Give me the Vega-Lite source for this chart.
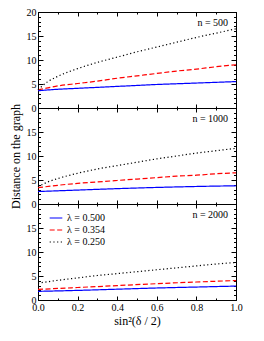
{
  "$schema": "https://vega.github.io/schema/vega-lite/v6.json",
  "padding": {"left": 8, "top": 6, "right": 5, "bottom": 5},
  "background": "white",
  "bounds": "flush",
  "spacing": 0,
  "resolve": {"legend": {"color": "independent", "strokeDash": "independent"}},
  "config": {
    "view": {"stroke": "black", "strokeWidth": 1},
    "font": "Liberation Serif",
    "axis": {"domainColor": "black", "tickColor": "black", "labelColor": "black", "titleColor": "black", "grid": false, "labelFont": "Liberation Serif", "titleFont": "Liberation Serif", "labelFontSize": 10, "titleFontSize": 12, "titleFontWeight": "normal"},
    "legend": {"labelFont": "Liberation Serif"}
  },
  "datasets": {
    "curves": [
      {"n": 500, "lam": "λ = 0.500", "s": 0.0, "d": 3.6},
      {"n": 500, "lam": "λ = 0.500", "s": 0.1, "d": 3.9},
      {"n": 500, "lam": "λ = 0.500", "s": 0.2, "d": 4.1},
      {"n": 500, "lam": "λ = 0.500", "s": 0.3, "d": 4.3},
      {"n": 500, "lam": "λ = 0.500", "s": 0.4, "d": 4.5},
      {"n": 500, "lam": "λ = 0.500", "s": 0.5, "d": 4.7},
      {"n": 500, "lam": "λ = 0.500", "s": 0.6, "d": 4.9},
      {"n": 500, "lam": "λ = 0.500", "s": 0.7, "d": 5.05},
      {"n": 500, "lam": "λ = 0.500", "s": 0.8, "d": 5.2},
      {"n": 500, "lam": "λ = 0.500", "s": 0.9, "d": 5.35},
      {"n": 500, "lam": "λ = 0.500", "s": 1.0, "d": 5.5},
      {"n": 500, "lam": "λ = 0.354", "s": 0.0, "d": 3.8},
      {"n": 500, "lam": "λ = 0.354", "s": 0.05, "d": 4.2},
      {"n": 500, "lam": "λ = 0.354", "s": 0.1, "d": 4.6},
      {"n": 500, "lam": "λ = 0.354", "s": 0.2, "d": 5.1},
      {"n": 500, "lam": "λ = 0.354", "s": 0.3, "d": 5.6},
      {"n": 500, "lam": "λ = 0.354", "s": 0.4, "d": 6.2},
      {"n": 500, "lam": "λ = 0.354", "s": 0.5, "d": 6.7},
      {"n": 500, "lam": "λ = 0.354", "s": 0.6, "d": 7.2},
      {"n": 500, "lam": "λ = 0.354", "s": 0.7, "d": 7.7},
      {"n": 500, "lam": "λ = 0.354", "s": 0.8, "d": 8.1},
      {"n": 500, "lam": "λ = 0.354", "s": 0.9, "d": 8.6},
      {"n": 500, "lam": "λ = 0.354", "s": 1.0, "d": 9.0},
      {"n": 500, "lam": "λ = 0.250", "s": 0.0, "d": 3.8},
      {"n": 500, "lam": "λ = 0.250", "s": 0.05, "d": 5.5},
      {"n": 500, "lam": "λ = 0.250", "s": 0.1, "d": 6.6},
      {"n": 500, "lam": "λ = 0.250", "s": 0.2, "d": 8.2},
      {"n": 500, "lam": "λ = 0.250", "s": 0.3, "d": 9.5},
      {"n": 500, "lam": "λ = 0.250", "s": 0.4, "d": 10.6},
      {"n": 500, "lam": "λ = 0.250", "s": 0.5, "d": 11.7},
      {"n": 500, "lam": "λ = 0.250", "s": 0.6, "d": 12.7},
      {"n": 500, "lam": "λ = 0.250", "s": 0.7, "d": 13.7},
      {"n": 500, "lam": "λ = 0.250", "s": 0.8, "d": 14.7},
      {"n": 500, "lam": "λ = 0.250", "s": 0.9, "d": 15.6},
      {"n": 500, "lam": "λ = 0.250", "s": 1.0, "d": 16.5},
      {"n": 1000, "lam": "λ = 0.500", "s": 0.0, "d": 2.6},
      {"n": 1000, "lam": "λ = 0.500", "s": 0.2, "d": 2.9},
      {"n": 1000, "lam": "λ = 0.500", "s": 0.4, "d": 3.2},
      {"n": 1000, "lam": "λ = 0.500", "s": 0.6, "d": 3.45},
      {"n": 1000, "lam": "λ = 0.500", "s": 0.8, "d": 3.65},
      {"n": 1000, "lam": "λ = 0.500", "s": 1.0, "d": 3.8},
      {"n": 1000, "lam": "λ = 0.354", "s": 0.0, "d": 3.4},
      {"n": 1000, "lam": "λ = 0.354", "s": 0.1, "d": 3.9},
      {"n": 1000, "lam": "λ = 0.354", "s": 0.2, "d": 4.3},
      {"n": 1000, "lam": "λ = 0.354", "s": 0.3, "d": 4.6},
      {"n": 1000, "lam": "λ = 0.354", "s": 0.4, "d": 4.9},
      {"n": 1000, "lam": "λ = 0.354", "s": 0.5, "d": 5.2},
      {"n": 1000, "lam": "λ = 0.354", "s": 0.6, "d": 5.5},
      {"n": 1000, "lam": "λ = 0.354", "s": 0.7, "d": 5.8},
      {"n": 1000, "lam": "λ = 0.354", "s": 0.8, "d": 6.0},
      {"n": 1000, "lam": "λ = 0.354", "s": 0.9, "d": 6.3},
      {"n": 1000, "lam": "λ = 0.354", "s": 1.0, "d": 6.5},
      {"n": 1000, "lam": "λ = 0.250", "s": 0.0, "d": 3.6},
      {"n": 1000, "lam": "λ = 0.250", "s": 0.05, "d": 4.6},
      {"n": 1000, "lam": "λ = 0.250", "s": 0.1, "d": 5.3},
      {"n": 1000, "lam": "λ = 0.250", "s": 0.2, "d": 6.4},
      {"n": 1000, "lam": "λ = 0.250", "s": 0.3, "d": 7.3},
      {"n": 1000, "lam": "λ = 0.250", "s": 0.4, "d": 8.0},
      {"n": 1000, "lam": "λ = 0.250", "s": 0.5, "d": 8.7},
      {"n": 1000, "lam": "λ = 0.250", "s": 0.6, "d": 9.4},
      {"n": 1000, "lam": "λ = 0.250", "s": 0.7, "d": 10.0},
      {"n": 1000, "lam": "λ = 0.250", "s": 0.8, "d": 10.6},
      {"n": 1000, "lam": "λ = 0.250", "s": 0.9, "d": 11.1},
      {"n": 1000, "lam": "λ = 0.250", "s": 1.0, "d": 11.6},
      {"n": 2000, "lam": "λ = 0.500", "s": 0.0, "d": 1.8},
      {"n": 2000, "lam": "λ = 0.500", "s": 0.2, "d": 2.0},
      {"n": 2000, "lam": "λ = 0.500", "s": 0.4, "d": 2.25},
      {"n": 2000, "lam": "λ = 0.500", "s": 0.6, "d": 2.5},
      {"n": 2000, "lam": "λ = 0.500", "s": 0.8, "d": 2.7},
      {"n": 2000, "lam": "λ = 0.500", "s": 1.0, "d": 2.9},
      {"n": 2000, "lam": "λ = 0.354", "s": 0.0, "d": 2.2},
      {"n": 2000, "lam": "λ = 0.354", "s": 0.2, "d": 2.6},
      {"n": 2000, "lam": "λ = 0.354", "s": 0.4, "d": 3.0},
      {"n": 2000, "lam": "λ = 0.354", "s": 0.6, "d": 3.4},
      {"n": 2000, "lam": "λ = 0.354", "s": 0.8, "d": 3.75},
      {"n": 2000, "lam": "λ = 0.354", "s": 1.0, "d": 4.05},
      {"n": 2000, "lam": "λ = 0.250", "s": 0.0, "d": 3.5},
      {"n": 2000, "lam": "λ = 0.250", "s": 0.1, "d": 4.1},
      {"n": 2000, "lam": "λ = 0.250", "s": 0.2, "d": 4.6},
      {"n": 2000, "lam": "λ = 0.250", "s": 0.3, "d": 5.1},
      {"n": 2000, "lam": "λ = 0.250", "s": 0.4, "d": 5.5},
      {"n": 2000, "lam": "λ = 0.250", "s": 0.5, "d": 5.9},
      {"n": 2000, "lam": "λ = 0.250", "s": 0.6, "d": 6.3},
      {"n": 2000, "lam": "λ = 0.250", "s": 0.7, "d": 6.7},
      {"n": 2000, "lam": "λ = 0.250", "s": 0.8, "d": 7.1},
      {"n": 2000, "lam": "λ = 0.250", "s": 0.9, "d": 7.5},
      {"n": 2000, "lam": "λ = 0.250", "s": 1.0, "d": 7.8}
    ],
    "labels": [
      {"n": 500, "txt": "n = 500", "s": 0.96, "d": 17.7},
      {"n": 1000, "txt": "n = 1000", "s": 0.96, "d": 17.7},
      {"n": 2000, "txt": "n = 2000", "s": 0.96, "d": 17.7}
    ]
  },
  "vconcat": [
    {
      "width": 198, "height": 96,
      "layer": [
        {
          "data": {"name": "curves"},
          "transform": [{"filter": "datum.n === 500"}],
          "mark": {"type": "line", "strokeWidth": 1.2, "interpolate": "monotone"},
          "encoding": {
            "x": {"field": "s", "type": "quantitative", "scale": {"domain": [0, 1], "nice": false}, "axis": {"orient": "bottom", "title": null, "values": [0,0.1,0.2,0.3,0.4,0.5,0.6,0.7,0.8,0.9,1], "labels": false, "tickSize": {"condition": {"test": "round(datum.value*10) % 2 === 0", "value": -4}, "value": -2}}},
            "y": {"field": "d", "type": "quantitative", "scale": {"domain": [0, 20], "nice": false}, "axis": {"orient": "left", "title": null, "labelPadding": 7, "values": [0,1,2,3,4,5,6,7,8,9,10,11,12,13,14,15,16,17,18,19,20], "labelExpr": "datum.value % 5 === 0 ? datum.label : ''", "tickSize": {"condition": {"test": "datum.value % 5 === 0", "value": -5}, "value": -2.5}}},
            "color": {"field": "lam", "type": "nominal", "scale": {"domain": ["λ = 0.500", "λ = 0.354", "λ = 0.250"], "range": ["#0000ff", "#ff0000", "#000000"]}, "legend": null},
            "strokeDash": {"field": "lam", "type": "nominal", "scale": {"domain": ["λ = 0.500", "λ = 0.354", "λ = 0.250"], "range": [[1, 0], [5, 2.5], [1.2, 2.5]]}, "legend": null}
          }
        },
        {
          "data": {"name": "labels"},
          "transform": [{"filter": "datum.n === 500"}],
          "mark": {"type": "text", "align": "right", "baseline": "middle", "fontSize": 10, "font": "Liberation Serif", "color": "black"},
          "encoding": {
            "x": {"field": "s", "type": "quantitative", "scale": {"domain": [0, 1], "nice": false}, "axis": {"orient": "top", "title": null, "values": [0,0.1,0.2,0.3,0.4,0.5,0.6,0.7,0.8,0.9,1], "labels": false, "tickSize": {"condition": {"test": "round(datum.value*10) % 2 === 0", "value": -4}, "value": -2}}},
            "y": {"field": "d", "type": "quantitative", "scale": {"domain": [0, 20], "nice": false}, "axis": {"orient": "right", "title": null, "values": [0,1,2,3,4,5,6,7,8,9,10,11,12,13,14,15,16,17,18,19,20], "labels": false, "tickSize": {"condition": {"test": "datum.value % 5 === 0", "value": -5}, "value": -2.5}}},
            "text": {"field": "txt"}
          }
        }
      ],
      "resolve": {"scale": {"x": "independent", "y": "independent"}}
    },
    {
      "width": 198, "height": 96,
      "layer": [
        {
          "data": {"name": "curves"},
          "transform": [{"filter": "datum.n === 1000"}],
          "mark": {"type": "line", "strokeWidth": 1.2, "interpolate": "monotone"},
          "encoding": {
            "x": {"field": "s", "type": "quantitative", "scale": {"domain": [0, 1], "nice": false}, "axis": {"orient": "bottom", "title": null, "values": [0,0.1,0.2,0.3,0.4,0.5,0.6,0.7,0.8,0.9,1], "labels": false, "tickSize": {"condition": {"test": "round(datum.value*10) % 2 === 0", "value": -4}, "value": -2}}},
            "y": {"field": "d", "type": "quantitative", "scale": {"domain": [0, 20], "nice": false}, "axis": {"orient": "left", "title": "Distance on the graph", "titlePadding": 4, "labelPadding": 7, "values": [0,1,2,3,4,5,6,7,8,9,10,11,12,13,14,15,16,17,18,19,20], "labelExpr": "datum.value % 5 === 0 && datum.value < 20 ? datum.label : ''", "tickSize": {"condition": {"test": "datum.value % 5 === 0", "value": -5}, "value": -2.5}}},
            "color": {"field": "lam", "type": "nominal", "scale": {"domain": ["λ = 0.500", "λ = 0.354", "λ = 0.250"], "range": ["#0000ff", "#ff0000", "#000000"]}, "legend": null},
            "strokeDash": {"field": "lam", "type": "nominal", "scale": {"domain": ["λ = 0.500", "λ = 0.354", "λ = 0.250"], "range": [[1, 0], [5, 2.5], [1.2, 2.5]]}, "legend": null}
          }
        },
        {
          "data": {"name": "labels"},
          "transform": [{"filter": "datum.n === 1000"}],
          "mark": {"type": "text", "align": "right", "baseline": "middle", "fontSize": 10, "font": "Liberation Serif", "color": "black"},
          "encoding": {
            "x": {"field": "s", "type": "quantitative", "scale": {"domain": [0, 1], "nice": false}, "axis": {"orient": "top", "title": null, "values": [0,0.1,0.2,0.3,0.4,0.5,0.6,0.7,0.8,0.9,1], "labels": false, "tickSize": {"condition": {"test": "round(datum.value*10) % 2 === 0", "value": -4}, "value": -2}}},
            "y": {"field": "d", "type": "quantitative", "scale": {"domain": [0, 20], "nice": false}, "axis": {"orient": "right", "title": null, "values": [0,1,2,3,4,5,6,7,8,9,10,11,12,13,14,15,16,17,18,19,20], "labels": false, "tickSize": {"condition": {"test": "datum.value % 5 === 0", "value": -5}, "value": -2.5}}},
            "text": {"field": "txt"}
          }
        }
      ],
      "resolve": {"scale": {"x": "independent", "y": "independent"}}
    },
    {
      "width": 198, "height": 96,
      "layer": [
        {
          "data": {"name": "curves"},
          "transform": [{"filter": "datum.n === 2000"}],
          "mark": {"type": "line", "strokeWidth": 1.2, "interpolate": "monotone"},
          "encoding": {
            "x": {"field": "s", "type": "quantitative", "scale": {"domain": [0, 1], "nice": false}, "axis": {"orient": "bottom", "title": "sin²(δ / 2)", "titlePadding": 3, "labelPadding": 6, "values": [0,0.1,0.2,0.3,0.4,0.5,0.6,0.7,0.8,0.9,1], "labelExpr": "round(datum.value*10) % 2 === 0 ? format(datum.value, '.1f') : ''", "labelFlush": false, "tickSize": {"condition": {"test": "round(datum.value*10) % 2 === 0", "value": -4}, "value": -2}}},
            "y": {"field": "d", "type": "quantitative", "scale": {"domain": [0, 20], "nice": false}, "axis": {"orient": "left", "title": null, "labelPadding": 7, "values": [0,1,2,3,4,5,6,7,8,9,10,11,12,13,14,15,16,17,18,19,20], "labelExpr": "datum.value % 5 === 0 && datum.value < 20 ? datum.label : ''", "tickSize": {"condition": {"test": "datum.value % 5 === 0", "value": -5}, "value": -2.5}}},
            "color": {"field": "lam", "type": "nominal", "scale": {"domain": ["λ = 0.500", "λ = 0.354", "λ = 0.250"], "range": ["#0000ff", "#ff0000", "#000000"]}, "legend": {"title": null, "orient": "none", "legendX": 11, "legendY": 7, "padding": 0, "rowPadding": 0, "symbolType": "stroke", "symbolSize": 160, "symbolStrokeWidth": 1.2, "labelFontSize": 10, "labelColor": "black", "labelOffset": 4}},
            "strokeDash": {"field": "lam", "type": "nominal", "scale": {"domain": ["λ = 0.500", "λ = 0.354", "λ = 0.250"], "range": [[1, 0], [5, 2.5], [1.2, 2.5]]}, "legend": {"title": null, "orient": "none", "legendX": 11, "legendY": 7, "padding": 0, "rowPadding": 0, "symbolType": "stroke", "symbolSize": 160, "symbolStrokeWidth": 1.2, "labelFontSize": 10, "labelColor": "black", "labelOffset": 4}}
          }
        },
        {
          "data": {"name": "labels"},
          "transform": [{"filter": "datum.n === 2000"}],
          "mark": {"type": "text", "align": "right", "baseline": "middle", "fontSize": 10, "font": "Liberation Serif", "color": "black"},
          "encoding": {
            "x": {"field": "s", "type": "quantitative", "scale": {"domain": [0, 1], "nice": false}, "axis": {"orient": "top", "title": null, "values": [0,0.1,0.2,0.3,0.4,0.5,0.6,0.7,0.8,0.9,1], "labels": false, "tickSize": {"condition": {"test": "round(datum.value*10) % 2 === 0", "value": -4}, "value": -2}}},
            "y": {"field": "d", "type": "quantitative", "scale": {"domain": [0, 20], "nice": false}, "axis": {"orient": "right", "title": null, "values": [0,1,2,3,4,5,6,7,8,9,10,11,12,13,14,15,16,17,18,19,20], "labels": false, "tickSize": {"condition": {"test": "datum.value % 5 === 0", "value": -5}, "value": -2.5}}},
            "text": {"field": "txt"}
          }
        }
      ],
      "resolve": {"scale": {"x": "independent", "y": "independent"}}
    }
  ]
}
